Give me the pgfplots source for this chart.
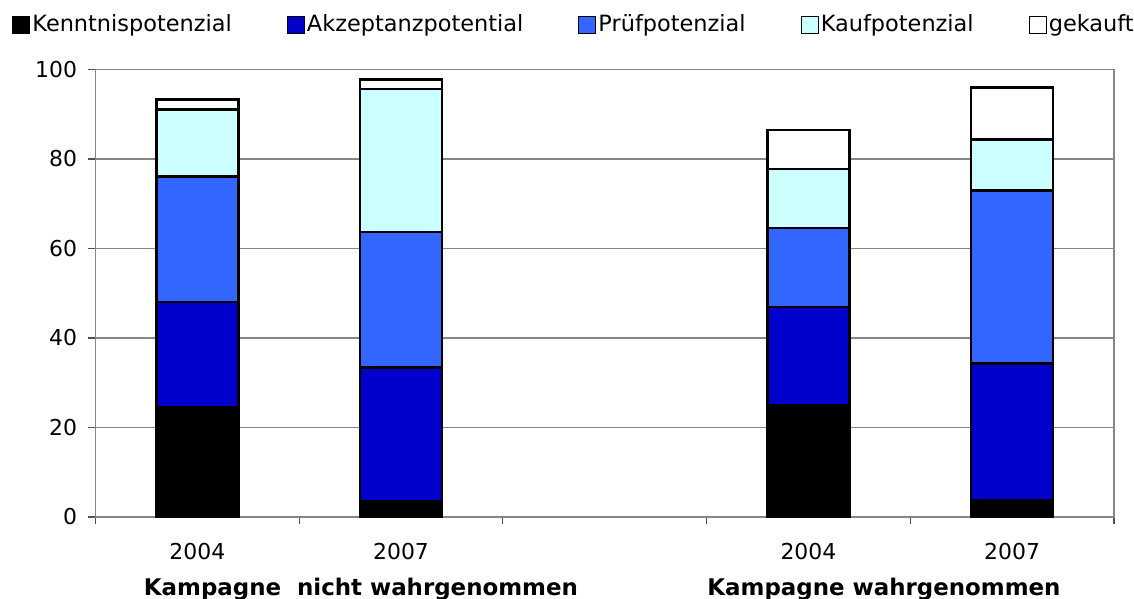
\documentclass[border=0pt]{standalone}
\usepackage{pgfplots}
\pgfplotsset{compat=1.18}
\usepackage{fontspec}
\setmainfont{DejaVu Sans}
\definecolor{cK}{HTML}{000000}
\definecolor{cA}{HTML}{0000CC}
\definecolor{cP}{HTML}{3366FF}
\definecolor{cKa}{HTML}{CCFFFF}
\definecolor{cG}{HTML}{FFFFFF}
\definecolor{gridc}{HTML}{868686}
\begin{document}
\fontsize{22}{26}\selectfont
\begin{tikzpicture}
\useasboundingbox (-95.5bp,-82bp) rectangle (1038.5bp,517bp);
\begin{axis}[
  at={(0,0)}, anchor=south west,
  scale only axis, width=1018.5bp, height=447.5bp,
  ybar stacked, bar width=82bp,
  xmin=-0.5, xmax=4.5, ymin=0, ymax=100,
  xtick={0,1,3,4}, xticklabels={2004,2007,2004,2007},
  minor xtick={-0.5,0.5,1.5,2.5,3.5,4.5},
  major x tick style={draw=none},
  minor tick length=7bp,
  ytick={0,20,40,60,80,100},
  major tick length=7bp,
  tick align=outside,
  xtick pos=bottom, ytick pos=left,
  tick style={draw=gridc!60!black, line width=1.2bp},
  ymajorgrids, grid style={draw=gridc, line width=1.4bp},
  axis line style={draw=gridc, line width=1.4bp},
  /pgf/number format/assume math mode=true,
  ticklabel style={font=\fontsize{22}{26}\selectfont},
  xticklabel style={yshift=-12bp},
  yticklabel style={xshift=-4bp},
  clip=false,
  legend columns=5,
  legend style={at={(0,1)}, anchor=west, xshift=-83.5bp, yshift=44.5bp,
    draw=none, fill=none, inner sep=0pt,
    font=\fontsize{22.5}{26}\selectfont,
    nodes={inner xsep=2bp, inner ysep=1bp},
    /tikz/every even column/.append style={column sep=53bp}},
  legend cell align=left,
  legend image code/.code={\draw[#1, line width=1.2bp] (0bp,-8.5bp) rectangle (17bp,8.5bp);},
]
\addplot[fill=cK, draw=black, line width=2.4bp] coordinates {(0,24.5) (1,3.6) (3,24.9) (4,3.8)};
\addplot[fill=cA, draw=black, line width=2.4bp] coordinates {(0,23.6) (1,29.8) (3,22.0) (4,30.5)};
\addplot[fill=cP, draw=black, line width=2.4bp] coordinates {(0,28.0) (1,30.3) (3,17.7) (4,38.7)};
\addplot[fill=cKa, draw=black, line width=2.4bp] coordinates {(0,15.0) (1,32.0) (3,13.2) (4,11.4)};
\addplot[fill=cG, draw=black, line width=2.4bp] coordinates {(0,2.2) (1,2.1) (3,8.7) (4,11.6)};
\legend{Kenntnispotenzial,Akzeptanzpotential,Prüfpotenzial,Kaufpotenzial,gekauft}
\node[anchor=base, font=\bfseries\fontsize{23}{27}\selectfont, inner sep=0pt] at (axis cs:0.803,0) [yshift=-78bp] {Kampagne\ \ nicht wahrgenommen};
\node[anchor=base, font=\bfseries\fontsize{23}{27}\selectfont, inner sep=0pt] at (axis cs:3.371,0) [yshift=-78bp] {Kampagne wahrgenommen};
\end{axis}
\end{tikzpicture}
\end{document}
